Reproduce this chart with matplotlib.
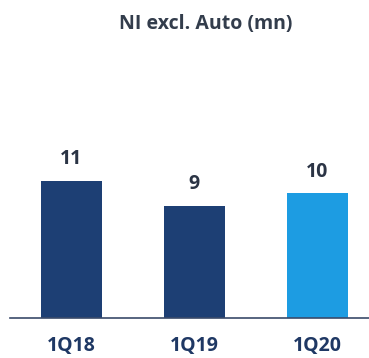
import matplotlib.pyplot as plt

# quarterly net income, auto excluded
quarters = ['1Q18', '1Q19', '1Q20']
ni_values = [11, 9, 10]
bar_colors = ['#1d3f74', '#1d3f74', '#1d9ce2']

plt.rcParams['font.family'] = ['Open Sans', 'DejaVu Sans']

fig = plt.figure(figsize=(3.69, 3.58), dpi=100)
ax = fig.add_axes([10 / 369, 40 / 358, 359 / 369, 250 / 358])

x = range(len(quarters))
ax.bar(x, ni_values, width=0.5, color=bar_colors)

for i, v in enumerate(ni_values):
    ax.text(i, v + 0.9, str(v), ha='center', va='bottom',
            fontsize=14, fontweight='bold', color='#2b3445')

ax.set_xlim(-0.5, 2.42)
ax.set_ylim(0, 20)
ax.set_xticks(list(x))
ax.set_xticklabels(quarters, fontsize=14, fontweight='bold', color='#1f3864')
ax.tick_params(axis='x', length=0, pad=13)
ax.set_yticks([])

for side in ['top', 'right', 'left']:
    ax.spines[side].set_visible(False)
ax.spines['bottom'].set_color('#3a4a6a')
ax.spines['bottom'].set_linewidth(1.2)

fig.text(206 / 369, 1 - 24 / 358, 'NI excl. Auto (mn)', ha='center', va='center',
         fontsize=14, fontweight='bold', color='#333d4c')

fig.savefig('out.png', dpi=100)
